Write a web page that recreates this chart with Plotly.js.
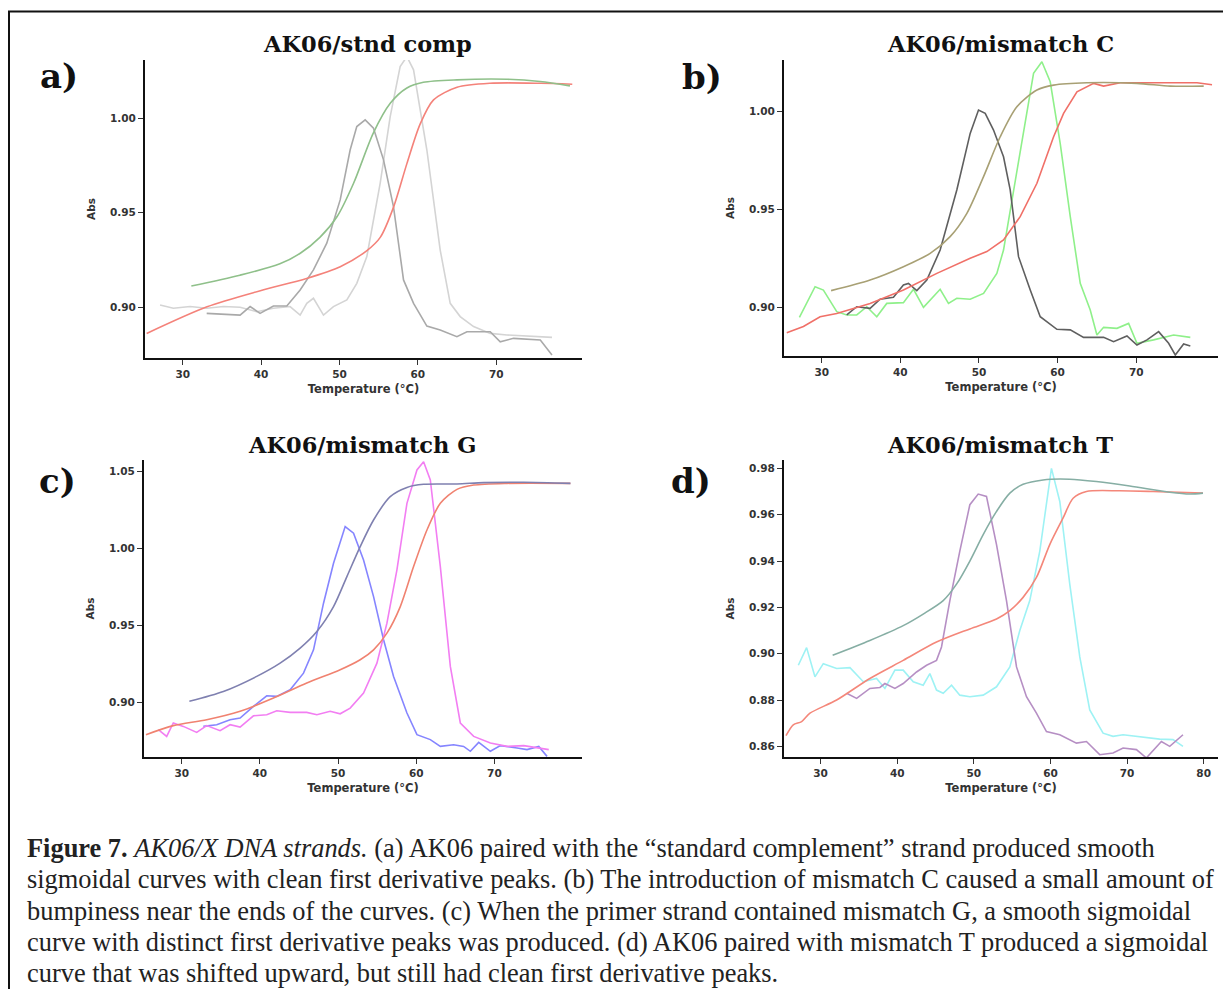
<!DOCTYPE html>
<html>
<head>
<meta charset="utf-8">
<script src="https://cdn.plot.ly/plotly-3.0.1.min.js"></script>
<style>html,body{margin:0;padding:0;background:#fff}#chart{width:1223px;height:989px}</style>
</head>
<body>
<div id="chart"></div>
<script>
// ---------- DATA ----------
const titles = ['AK06/stnd comp', 'AK06/mismatch C', 'AK06/mismatch G', 'AK06/mismatch T'];
const panelLabels = ['a)', 'b)', 'c)', 'd)'];
const xTicksABC = [30, 40, 50, 60, 70];
const xTicksD = [30, 40, 50, 60, 70, 80];
const yTicksABC = [0.90, 0.95, 1.00];
const yTicksC = [0.90, 0.95, 1.00, 1.05];
const yTicksD = [0.86, 0.88, 0.90, 0.92, 0.94, 0.96, 0.98];

// Panel a
const aGreenT = [31.1, 37.3, 42.4, 45.0, 47.5, 49.7, 51.8, 54.3, 56.5, 58.6, 60.7, 65.0, 71.4, 75.6, 79.4];
const aGreenA = [0.9113, 0.917, 0.923, 0.9286, 0.937, 0.948, 0.9656, 0.992, 1.008, 1.016, 1.019, 1.0203, 1.0206, 1.0194, 1.0171];
const aRedT = [25.4, 33.1, 39.9, 45.8, 50.1, 53.5, 55.2, 56.9, 58.6, 60.3, 62.0, 65.0, 69.2, 75.6, 79.7];
const aRedA = [0.8862, 0.9003, 0.9088, 0.9153, 0.9215, 0.930, 0.937, 0.953, 0.976, 0.997, 1.0097, 1.0164, 1.0185, 1.0185, 1.018];
const aDarkT = [33.06, 37.32, 38.6, 39.87, 41.57, 43.28, 44.98, 46.68, 48.38, 50.09, 51.36, 52.21, 53.28, 54.34, 55.62, 56.89, 58.17, 59.45, 61.15, 62.85, 64.98, 66.26, 69.23, 70.51, 72.21, 75.62, 77.11];
const aDarkA = [0.8968, 0.8959, 0.9004, 0.8968, 0.9007, 0.9007, 0.9092, 0.9198, 0.9339, 0.9568, 0.9832, 0.9956, 0.9991, 0.9947, 0.9780, 0.9533, 0.9145, 0.9021, 0.8901, 0.8880, 0.8845, 0.8871, 0.8871, 0.8818, 0.8836, 0.8827, 0.8748];
const aLightT = [27.11, 28.81, 30.94, 33.06, 35.19, 37.32, 39.45, 41.57, 43.70, 44.98, 45.83, 46.68, 47.96, 49.23, 50.94, 52.21, 53.49, 55.19, 56.47, 57.74, 58.60, 59.45, 61.15, 62.85, 64.13, 65.40, 67.11, 69.23, 71.36, 73.49, 77.11];
const aLightA = [0.9012, 0.8995, 0.9004, 0.8995, 0.9004, 0.9000, 0.8977, 0.8995, 0.9004, 0.8959, 0.9021, 0.9048, 0.8959, 0.9004, 0.9039, 0.9127, 0.9268, 0.9656, 1.0009, 1.0273, 1.0326, 1.0256, 0.9832, 0.9303, 0.9021, 0.8951, 0.8898, 0.8862, 0.8854, 0.8848, 0.8841];

// Panel b
const bOliveT = [31.19, 36.15, 40.39, 43.79, 46.33, 48.46, 50.58, 52.70, 54.82, 57.37, 59.49, 63.73, 70.09, 74.34, 78.58];
const bOliveA = [0.9085, 0.9139, 0.9207, 0.9275, 0.936, 0.9479, 0.9666, 0.9869, 1.0022, 1.0107, 1.0132, 1.0144, 1.0141, 1.0127, 1.0127];
const bRedT = [25.55, 27.67, 29.79, 31.91, 36.15, 40.39, 44.64, 48.88, 51.0, 53.12, 55.24, 57.37, 59.49, 60.76, 62.46, 64.58, 65.85, 67.97, 72.21, 77.73, 79.64];
const bRedA = [0.8871, 0.8902, 0.8952, 0.8969, 0.9020, 0.9088, 0.9173, 0.9250, 0.9284, 0.9343, 0.9462, 0.9632, 0.9869, 0.9988, 1.0098, 1.0141, 1.0127, 1.0144, 1.0144, 1.0144, 1.0134];
const bDarkT = [33.18, 34.45, 36.15, 37.42, 39.12, 40.39, 41.03, 42.09, 43.36, 45.06, 47.18, 48.88, 49.94, 50.79, 51.85, 53.12, 53.97, 55.03, 56.52, 57.79, 59.91, 61.61, 63.30, 65.85, 67.12, 68.82, 70.09, 71.37, 72.85, 74.12, 74.97, 76.03, 76.88];
const bDarkA = [0.8961, 0.9003, 0.8995, 0.9041, 0.9051, 0.9114, 0.9122, 0.9085, 0.9139, 0.9292, 0.9598, 0.9886, 1.0005, 0.9988, 0.9903, 0.9767, 0.9598, 0.9258, 0.9088, 0.8952, 0.8888, 0.8885, 0.8847, 0.8847, 0.8825, 0.8854, 0.8808, 0.8834, 0.8876, 0.8817, 0.8757, 0.8813, 0.8803];
const bLimeT = [27.16, 29.15, 30.21, 31.91, 33.18, 34.45, 35.73, 37.0, 38.27, 40.39, 41.67, 42.94, 45.06, 46.12, 47.18, 48.88, 50.58, 52.27, 53.12, 54.40, 55.67, 56.94, 58.0, 59.06, 60.33, 61.61, 62.88, 64.15, 65.0, 65.85, 67.55, 69.03, 70.09, 72.21, 74.76, 76.88];
const bLimeA = [0.8949, 0.9105, 0.9088, 0.8978, 0.8961, 0.8961, 0.9003, 0.8952, 0.9020, 0.9024, 0.9092, 0.9000, 0.9092, 0.9020, 0.9046, 0.9041, 0.9071, 0.9173, 0.9292, 0.9598, 0.9886, 1.0192, 1.0251, 1.0149, 0.9835, 0.9462, 0.9122, 0.8986, 0.8859, 0.8898, 0.8893, 0.8918, 0.8817, 0.8834, 0.8859, 0.8847];

// Panel c
const cSlateT = [30.98, 35.33, 39.60, 42.59, 45.15, 47.29, 49.42, 51.13, 52.83, 54.54, 56.67, 58.81, 60.94, 65.21, 68.63, 73.75, 79.72];
const cSlateA = [0.9007, 0.9071, 0.9169, 0.9255, 0.9353, 0.9461, 0.9623, 0.9818, 1.0013, 1.0186, 1.0338, 1.0398, 1.0418, 1.0420, 1.0429, 1.0431, 1.0424];
const cRedT = [25.43, 28.93, 33.20, 37.47, 41.74, 46.0, 50.27, 52.83, 54.54, 56.25, 57.96, 59.66, 61.37, 63.08, 65.21, 67.35, 71.61, 79.72];
const cRedA = [0.8790, 0.8849, 0.8887, 0.8942, 0.9028, 0.9126, 0.9212, 0.9277, 0.9342, 0.9450, 0.9623, 0.9883, 1.0121, 1.0294, 1.0385, 1.0413, 1.0424, 1.0424];
const cBlueT = [32.77, 34.48, 36.19, 37.47, 39.18, 40.88, 42.16, 43.87, 45.58, 46.86, 48.14, 49.42, 50.91, 51.98, 53.26, 54.54, 55.82, 57.10, 58.81, 60.09, 61.80, 63.08, 64.78, 66.06, 66.92, 67.99, 69.48, 70.76, 72.89, 74.17, 75.67, 76.73];
const cBlueA = [0.8844, 0.8855, 0.8887, 0.8898, 0.8974, 0.9043, 0.9039, 0.9082, 0.9190, 0.9342, 0.9645, 0.9905, 1.0143, 1.0100, 0.9926, 0.9688, 0.9407, 0.9169, 0.8931, 0.8790, 0.8758, 0.8714, 0.8725, 0.8714, 0.8682, 0.8740, 0.8682, 0.8719, 0.8703, 0.8693, 0.8714, 0.8649];
const cPinkT = [27.01, 28.08, 28.93, 30.21, 31.92, 33.20, 34.91, 36.19, 37.47, 39.18, 40.88, 42.16, 43.87, 46.0, 47.29, 48.99, 50.27, 51.55, 53.26, 54.97, 56.25, 57.53, 58.81, 60.09, 60.94, 61.80, 63.08, 64.36, 65.64, 67.35, 69.48, 71.61, 73.75, 76.95];
const cPinkA = [0.8823, 0.8779, 0.8866, 0.8844, 0.8805, 0.8849, 0.8816, 0.8855, 0.8840, 0.8913, 0.8920, 0.8946, 0.8935, 0.8935, 0.8920, 0.8942, 0.8926, 0.8963, 0.9061, 0.9255, 0.9515, 0.9862, 1.0294, 1.0511, 1.0565, 1.0446, 0.9883, 0.9234, 0.8866, 0.8779, 0.8736, 0.8714, 0.8719, 0.8693];

// Panel d
const dTealT = [31.57, 36.43, 40.78, 43.39, 46.0, 47.74, 49.48, 51.22, 52.96, 54.70, 56.43, 59.04, 62.52, 66.0, 70.35, 75.57, 78.17, 79.91];
const dTealA = [0.8993, 0.9057, 0.9121, 0.9171, 0.9229, 0.930, 0.940, 0.9514, 0.9614, 0.9693, 0.9731, 0.9750, 0.9753, 0.9743, 0.9724, 0.9697, 0.9689, 0.9693];
const dRedT = [25.48, 26.43, 27.52, 28.61, 32.09, 36.43, 40.78, 45.13, 49.48, 52.96, 54.70, 56.43, 58.17, 59.91, 61.65, 62.96, 64.70, 69.04, 73.39, 79.91];
const dRedA = [0.8646, 0.8693, 0.8707, 0.8743, 0.880, 0.8893, 0.8971, 0.905, 0.9107, 0.915, 0.9186, 0.9243, 0.9329, 0.9471, 0.9586, 0.9671, 0.970, 0.9703, 0.970, 0.9693];
const dPurpleT = [33.39, 34.70, 36.43, 37.74, 38.39, 39.70, 40.78, 42.52, 43.83, 45.13, 45.78, 46.87, 48.17, 49.48, 50.57, 51.65, 52.96, 54.26, 55.57, 56.87, 58.17, 59.48, 61.22, 63.39, 64.70, 66.43, 68.17, 69.48, 71.22, 72.52, 74.48, 75.57, 77.30];
const dPurpleA = [0.8829, 0.8807, 0.885, 0.8854, 0.8871, 0.885, 0.8871, 0.8921, 0.895, 0.8971, 0.9029, 0.9229, 0.9443, 0.9643, 0.9689, 0.9679, 0.9471, 0.9229, 0.8943, 0.8814, 0.8743, 0.8664, 0.865, 0.8614, 0.8621, 0.8564, 0.8571, 0.8593, 0.8586, 0.855, 0.8621, 0.86, 0.865];
const dCyanT = [27.09, 28.17, 29.26, 30.35, 32.09, 33.83, 35.57, 37.30, 38.39, 39.70, 40.78, 42.09, 43.39, 44.26, 45.13, 46.0, 47.09, 48.17, 49.48, 51.22, 52.96, 54.70, 56.0, 57.30, 58.61, 59.48, 60.13, 61.22, 62.52, 63.83, 65.13, 66.87, 68.17, 69.48, 72.09, 74.26, 76.0, 77.30];
const dCyanA = [0.895, 0.9026, 0.89, 0.8957, 0.8936, 0.894, 0.8879, 0.8893, 0.885, 0.8929, 0.8929, 0.8879, 0.8864, 0.8914, 0.8843, 0.8829, 0.8864, 0.8821, 0.8814, 0.8821, 0.8857, 0.8943, 0.91, 0.9229, 0.9443, 0.9657, 0.98, 0.9657, 0.93, 0.8986, 0.8757, 0.8657, 0.8643, 0.865, 0.864, 0.8631, 0.8629, 0.86];

const captionLines = [
  '<b>Figure 7.</b> <i>AK06/X DNA strands.</i> (a) AK06 paired with the \u201cstandard complement\u201d strand produced smooth',
  'sigmoidal curves with clean first derivative peaks. (b) The introduction of mismatch C caused a small amount of',
  'bumpiness near the ends of the curves. (c) When the primer strand contained mismatch G, a smooth sigmoidal',
  'curve with distinct first derivative peaks was produced. (d) AK06 paired with mismatch T produced a sigmoidal',
  'curve that was shifted upward, but still had clean first derivative peaks.'
];

// ---------- LAYOUT ----------
const W = 1223, H = 989;
const fx = p => p / W;
const fy = p => 1 - p / H;

const panels = [
  {box: [145, 582, 60, 358], xr: [25.19, 80.94], yr: [0.8732, 1.0308], xt: xTicksABC, yt: yTicksABC, fmt: '.2f',
   title: [367, 44], label: [59, 76]},
  {box: [784, 1218, 60, 356], xr: [25.2, 80.4], yr: [0.8752, 1.026], xt: xTicksABC, yt: yTicksABC, fmt: '.2f',
   title: [1000, 44], label: [702, 77]},
  {box: [144, 582, 460, 757], xr: [25.18, 81.2], yr: [0.8645, 1.0576], xt: xTicksABC, yt: yTicksC, fmt: '.2f',
   title: [362, 445], label: [57, 481]},
  {box: [784, 1218, 460, 757], xr: [25.22, 81.87], yr: [0.8554, 0.9836], xt: xTicksD, yt: yTicksD, fmt: '.2f',
   title: [1000, 445], label: [691, 481]}
];

const series = [
  [[aLightT, aLightA, '#d4d4d4', 'linear'], [aDarkT, aDarkA, '#a9a9a9', 'linear'], [aRedT, aRedA, '#f4827a', 'spline'], [aGreenT, aGreenA, '#8fc08a', 'spline']],
  [[bLimeT, bLimeA, '#8ff08a', 'linear'], [bDarkT, bDarkA, '#5f5f5f', 'linear'], [bRedT, bRedA, '#f07068', 'linear'], [bOliveT, bOliveA, '#a8a074', 'spline']],
  [[cBlueT, cBlueA, '#8585ff', 'linear'], [cPinkT, cPinkA, '#f27ef2', 'linear'], [cRedT, cRedA, '#f08270', 'spline'], [cSlateT, cSlateA, '#7f80b0', 'spline']],
  [[dCyanT, dCyanA, '#9ef2f4', 'linear'], [dPurpleT, dPurpleA, '#b68fc4', 'linear'], [dRedT, dRedA, '#f4877a', 'spline'], [dTealT, dTealA, '#86aea4', 'spline']]
];

const tickFont = {family: 'DejaVu Sans, sans-serif', size: 10.5, color: '#333', weight: 'bold'};
const xTitleFont = {family: 'DejaVu Sans, sans-serif', size: 11.5, color: '#333', weight: 'bold'};
const traces = [];
const layout = {
  width: W, height: H, margin: {l: 0, r: 0, t: 0, b: 0},
  paper_bgcolor: '#fff', plot_bgcolor: 'rgba(0,0,0,0)', showlegend: false,
  annotations: [], shapes: []
};

panels.forEach((p, i) => {
  const n = i === 0 ? '' : String(i + 1);
  const xa = 'xaxis' + n, ya = 'yaxis' + n;
  layout[xa] = {
    domain: [fx(p.box[0]), fx(p.box[1])], range: p.xr, anchor: 'y' + n,
    showline: true, linewidth: 2, linecolor: '#111', showgrid: false, zeroline: false,
    ticks: 'outside', ticklen: 5, tickwidth: 1, tickcolor: '#333',
    tickmode: 'array', tickvals: p.xt, tickfont: tickFont,
    title: {text: 'Temperature (\u00b0C)', font: xTitleFont, standoff: 6}
  };
  layout[ya] = {
    domain: [fy(p.box[3]), fy(p.box[2])], range: p.yr, anchor: 'x' + n,
    showline: true, linewidth: 2, linecolor: '#111', showgrid: false, zeroline: false,
    ticks: 'outside', ticklen: 5, tickwidth: 1, tickcolor: '#333',
    tickmode: 'array', tickvals: p.yt, tickformat: p.fmt, tickfont: tickFont,
    title: {text: 'Abs', font: tickFont, standoff: 12}
  };
  series[i].forEach(s => {
    traces.push({
      x: s[0], y: s[1], type: 'scatter', mode: 'lines', xaxis: 'x' + n, yaxis: 'y' + n,
      line: {color: s[2], width: 1.6, shape: s[3], smoothing: 0.8}, hoverinfo: 'skip'
    });
  });
  layout.annotations.push({
    text: '<b>' + titles[i] + '</b>', xref: 'paper', yref: 'paper', x: fx(p.title[0]), y: fy(p.title[1]),
    xanchor: 'center', yanchor: 'middle', showarrow: false,
    font: {family: 'DejaVu Serif, serif', size: 22.5, color: '#111'}
  });
  layout.annotations.push({
    text: '<b>' + panelLabels[i] + '</b>', xref: 'paper', yref: 'paper', x: fx(p.label[0]), y: fy(p.label[1]),
    xanchor: 'center', yanchor: 'middle', showarrow: false,
    font: {family: 'DejaVu Serif, serif', size: 34, color: '#111'}
  });
});

const capY = [848, 879, 911, 942, 973];
captionLines.forEach((t, k) => {
  layout.annotations.push({
    text: t, xref: 'paper', yref: 'paper', x: fx(25), y: fy(capY[k]),
    xanchor: 'left', yanchor: 'middle', align: 'left', showarrow: false,
    font: {family: 'Liberation Serif, serif', size: 26.4, color: '#222'}
  });
});

layout.shapes.push({
  type: 'rect', xref: 'paper', yref: 'paper',
  x0: fx(9), x1: 1.02, y0: -0.02, y1: fy(11.5),
  line: {color: '#111', width: 2}, fillcolor: 'rgba(0,0,0,0)'
});

Plotly.newPlot('chart', traces, layout, {staticPlot: true, displayModeBar: false});
</script>
</body>
</html>
